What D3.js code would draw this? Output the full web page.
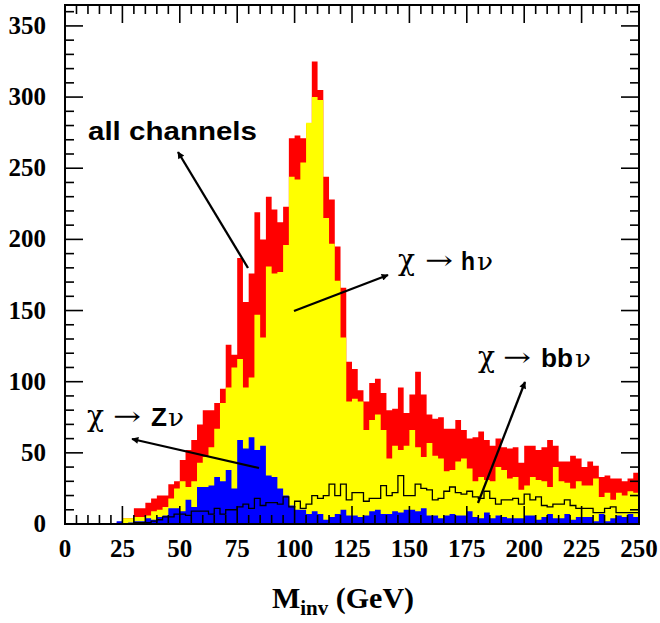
<!DOCTYPE html>
<html><head><meta charset="utf-8">
<script src="https://cdn.jsdelivr.net/npm/d3@7"></script>
<style>body{margin:0;background:#fff;} svg{display:block;}</style>
</head><body>
<svg id="c" width="660" height="623"></svg>
<script>
// ---- data (2.5 GeV bins, 0-250 GeV) ----
const binWidth = 2.5;
const allChannels = [0,0,0,0,0,0,0,0,0,1, 4,4,11,11,15,18,20,20,28,30,
  45,52,59,70,80,80,85,95,126,119, 187,156,176,219,200,230,221,212,223,271,
  273,271,281,325,305,244,228,195,166,114, 109,94,86,99,102,92,80,81,96,78,
  91,107,91,77,74,75,67,67,73,66, 60,61,65,59,55,60,54,53,54,43,
  55,55,52,54,59,55,44,44,48,46, 40,44,41,33,34,32,32,30,32,36];
const hNu = [0,0,0,0,0,0,0,0,0,0, 4,4,5,5,6,9,10,12,18,25,
  30,26,30,43,47,54,67,85,96,110, 116,96,103,147,131,181,176,177,196,244,
  242,254,282,300,298,215,197,171,131,86, 88,86,66,73,77,66,46,55,52,55,
  66,54,47,57,48,46,37,38,44,46, 39,30,33,31,30,40,38,32,33,24,
  27,33,31,30,26,40,30,29,25,30, 27,27,32,19,22,17,22,20,23,22];
const zNu = [0,0,0,0,0,0,0,0,0,2, 0,1,2,2,4,3,5,6,11,11,
  9,17,12,26,26,27,33,30,38,25, 59,53,61,52,55,34,33,25,20,13,
  10,10,7,9,7,3,5,7,10,6, 6,5,6,9,10,7,7,9,8,10,
  10,9,11,6,6,4,6,7,6,6, 9,5,4,8,4,6,5,4,4,4,
  6,6,3,5,7,4,4,7,3,5, 5,5,2,7,2,4,6,5,7,5];
const bbNu = [0,0,0,0,0,0,0,0,0,0, 0,0,1,1,1,2,3,5,5,7,
  7,6,9,9,9,7,11,7,10,10, 12,14,11,18,13,15,15,14,19,12,
  16,11,14,20,18,20,28,20,28,17, 22,22,16,18,18,27,20,22,34,20,
  20,28,25,24,17,18,23,26,22,21, 23,19,18,23,18,14,17,17,18,14,
  21,17,19,13,12,14,14,17,13,11, 11,11,8,8,11,12,8,8,8,8];
const xTicks = [0,25,50,75,100,125,150,175,200,225,250];
const yTicks = [0,50,100,150,200,250,300,350];
const channelLabels = ["Z","h","bb"];

// ---- layout ----
const svg = d3.select("#c");
const L = 65, R = 639, T = 5, B = 524;
const x = d3.scaleLinear().domain([0,250]).range([L,R]);
const y = d3.scaleLinear().domain([0,364.7]).range([B,T]);

function stepPoints(vals){
  const pts = [];
  vals.forEach((v,i)=>{ pts.push([i*binWidth, v]); pts.push([(i+1)*binWidth, v]); });
  return pts;
}
const area = d3.area().x(d=>x(d[0])).y0(y(0)).y1(d=>y(d[1]));
const line = d3.line().x(d=>x(d[0])).y(d=>y(d[1]));

const g = svg.append("g");
g.append("path").attr("d", area(stepPoints(allChannels))).attr("fill","#ff0000");
g.append("path").attr("d", area(stepPoints(hNu))).attr("fill","#ffff00");
g.append("path").attr("d", area(stepPoints(zNu))).attr("fill","#0000ff");
const bbPts = [[0,0]].concat(stepPoints(bbNu)).concat([[250,0]]);
g.append("path").attr("d", line(bbPts)).attr("fill","none").attr("stroke","#000").attr("stroke-width",1.3);

// ---- frame and ticks ----
const ax = svg.append("g").attr("stroke","#000");
ax.append("rect").attr("x",L).attr("y",T).attr("width",R-L).attr("height",B-T)
  .attr("fill","none").attr("stroke-width",2);
const majL = 18, minL = 9;
d3.range(0,251,5).forEach(v=>{
  const len = (v%25===0)?majL:minL;
  ax.append("line").attr("x1",x(v)).attr("x2",x(v)).attr("y1",B).attr("y2",B-len).attr("stroke-width",1.6);
  ax.append("line").attr("x1",x(v)).attr("x2",x(v)).attr("y1",T).attr("y2",T+len).attr("stroke-width",1.6);
});
d3.range(0,361,10).forEach(v=>{
  const len = (v%50===0)?majL:minL;
  ax.append("line").attr("y1",y(v)).attr("y2",y(v)).attr("x1",L).attr("x2",L+len).attr("stroke-width",1.6);
  ax.append("line").attr("y1",y(v)).attr("y2",y(v)).attr("x1",R).attr("x2",R-len).attr("stroke-width",1.6);
});
const tf = "'Liberation Serif','Times New Roman',serif";
svg.append("g").selectAll("text").data(xTicks).join("text")
  .attr("x",d=>x(d)).attr("y",B+33).attr("text-anchor","middle")
  .attr("font-family",tf).attr("font-weight","bold").attr("font-size",25).text(d=>d);
svg.append("g").selectAll("text").data(yTicks).join("text")
  .attr("x",L-19).attr("y",d=>y(d)+8).attr("text-anchor","end")
  .attr("font-family",tf).attr("font-weight","bold").attr("font-size",25).text(d=>d);

// axis title
const tt = svg.append("text").attr("x",343).attr("y",608).attr("text-anchor","middle")
  .attr("font-family",tf).attr("font-weight","bold").attr("font-size",30);
tt.append("tspan").text("M");
tt.append("tspan").attr("font-size",21).attr("dy",7).text("inv");
tt.append("tspan").attr("dy",-7).text(" (GeV)");

// ---- annotations ----
const sf = "'Liberation Sans',Arial,sans-serif";
const gf = "'DejaVu Serif',serif";
svg.append("text").attr("x",88).attr("y",140).attr("font-family",sf).attr("font-weight","bold")
  .attr("font-size",25).attr("textLength",169).attr("lengthAdjust","spacingAndGlyphs").text("all channels");

// [chi x, arrow x, bold x, bold width, nu x, baseline]
const lab = [[87,113,151,16,168,426],[398,425,461,14,477,270],[478,503,541,32,575,367]];
lab.forEach((p,i)=>{
  const [cx,ax2,bx,bw,nx,by] = p;
  svg.append("text").attr("x",cx).attr("y",by).attr("font-family",gf).attr("font-size",30)
    .attr("textLength",17).attr("lengthAdjust","spacingAndGlyphs").text("χ");
  svg.append("text").attr("x",ax2).attr("y",by-1).attr("font-family",gf).attr("font-size",26)
    .attr("textLength",28).attr("lengthAdjust","spacingAndGlyphs").text("→");
  svg.append("text").attr("x",bx).attr("y",by).attr("font-family",sf).attr("font-weight","bold").attr("font-size",25)
    .attr("textLength",bw).attr("lengthAdjust","spacingAndGlyphs").text(channelLabels[i]);
  svg.append("text").attr("x",nx).attr("y",by).attr("font-family",gf).attr("font-size",25)
    .attr("textLength",16).attr("lengthAdjust","spacingAndGlyphs").text("ν");
});

const defs = svg.append("defs");
defs.append("marker").attr("id","ah").attr("viewBox","0 0 10 10").attr("refX",9).attr("refY",5)
  .attr("markerUnits","userSpaceOnUse").attr("markerWidth",9).attr("markerHeight",7).attr("orient","auto")
  .append("path").attr("d","M0,0L10,5L0,10z").attr("fill","#000");
function arrow(x1,y1,x2,y2){
  svg.append("line").attr("x1",x1).attr("y1",y1).attr("x2",x2).attr("y2",y2)
    .attr("stroke","#000").attr("stroke-width",2.3).attr("marker-end","url(#ah)");
}
arrow(248,268,178,152);
arrow(294,311,388,275);
arrow(259,468,132,439);
arrow(478,503,525,382);
</script>
</body></html>
